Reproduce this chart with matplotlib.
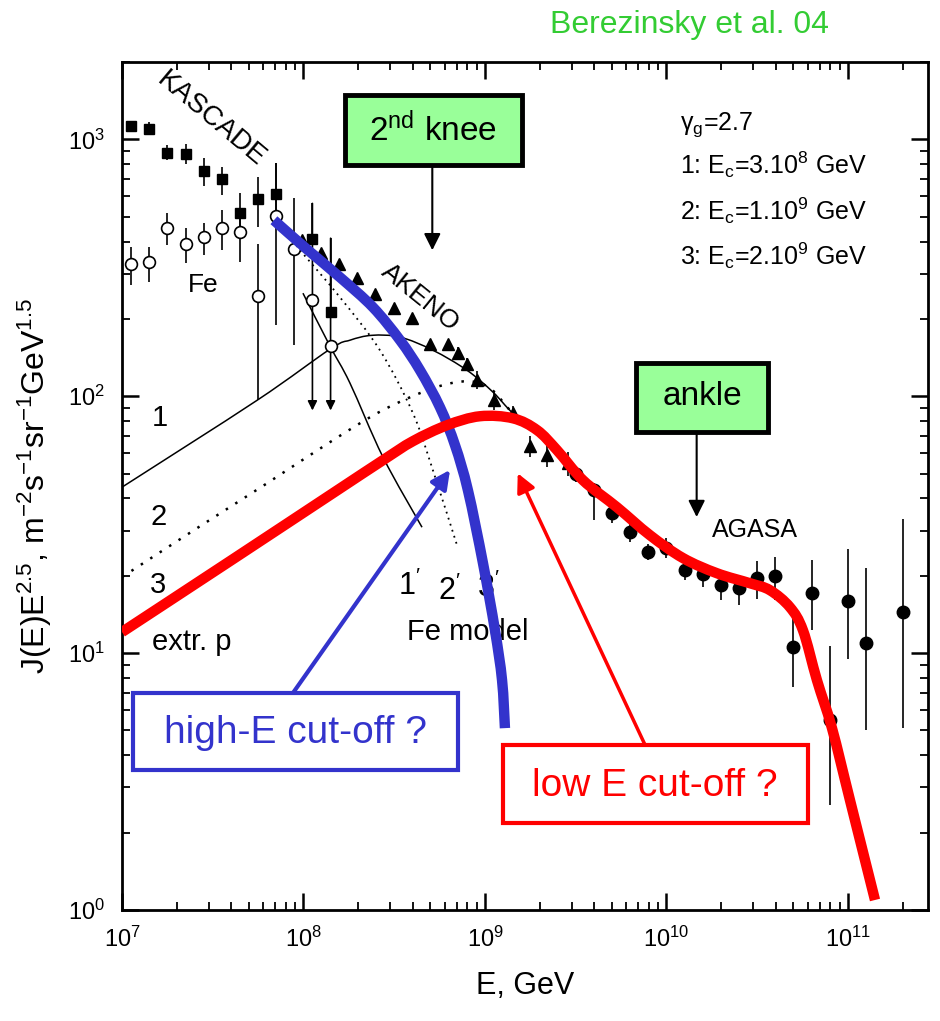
import numpy as np
import matplotlib
matplotlib.use('Agg')
import matplotlib.pyplot as plt
from matplotlib.patches import Rectangle, PathPatch
from matplotlib.path import Path
from matplotlib import font_manager

plt.rcParams['font.family'] = ['Liberation Sans', 'DejaVu Sans']
plt.rcParams['mathtext.fontset'] = 'custom'
plt.rcParams['mathtext.rm'] = 'Liberation Sans'
plt.rcParams['mathtext.it'] = 'Liberation Sans:italic'
plt.rcParams['mathtext.sf'] = 'Liberation Sans'

# ---------------- data ----------------
# KASCADE all-particle (filled squares)
kas_E = [1.12e7, 1.41e7, 1.78e7, 2.24e7, 2.82e7, 3.55e7, 4.47e7, 5.62e7, 7.08e7, 1.12e8, 1.41e8]
kas_J = [1124, 1094, 883, 875, 751, 699, 515, 585, 611, 408, 212]
kas_lo = [1074, 1037, 828, 800, 656, 605, 431, 455, 475, 408, 212]
kas_hi = [1175, 1164, 948, 957, 844, 778, 617, 711, 807, 563, 412]

# KASCADE Fe (open circles)
fe_E = [1.12e7, 1.41e7, 1.78e7, 2.24e7, 2.82e7, 3.55e7, 4.47e7, 5.62e7, 7.08e7, 8.91e7, 1.12e8, 1.41e8]
fe_J = [326, 332, 450, 390, 416, 450, 435, 245, 501, 373, 236, 157]
fe_lo = [270, 278, 387, 329, 354, 370, 332, 96.5, 189, 158, 236, 157]
fe_hi = [380, 380, 515, 451, 471, 529, 497, 390, 807, 589, 236, 157]

# upper limits (arrows)
ul_E = [1.12e8, 1.41e8]
ul_top = [563, 412]
ul_bottom = [88, 88]

# AKENO (triangles)
ak_E = [9.8e7, 1.25e8, 1.57e8, 1.97e8, 2.48e8, 3.15e8, 3.96e8, 4.98e8, 6.25e8, 7.1e8,
        7.96e8, 9.0e8, 1.12e9, 1.43e9, 1.77e9, 2.2e9, 2.87e9]
ak_J = [405, 360, 326, 288, 249, 220, 201, 159, 159, 147, 133, 116, 96.5, 85.9, 63.8, 58.9, 54.9]
ak_err = [0, 0, 0, 0, 0, 0, 0, 0, 0, 8, 8, 9, 8, 6, 6, 6, 6]

# AGASA (filled circles)
ag_E = [3.16e9, 3.98e9, 5.01e9, 6.31e9, 7.94e9, 1.0e10, 1.26e10, 1.58e10, 2.0e10, 2.51e10,
        3.16e10, 3.98e10, 5.01e10, 6.31e10, 7.94e10, 1.0e11, 1.26e11, 2.0e11]
ag_J = [49.7, 43.0, 35.1, 29.6, 24.7, 25.6, 21.0, 20.3, 18.4, 17.9,
        19.6, 19.9, 10.6, 17.1, 5.49, 15.9, 10.9, 14.4]
ag_lo = [46.3, 32.9, 32.0, 27.0, 23.0, 23.4, 19.2, 18.1, 16.1, 15.4,
         16.2, 16.1, 7.38, 12.3, 2.56, 9.48, 5.01, 5.11]
ag_hi = [53.4, 45.8, 38.3, 32.3, 26.6, 28.0, 23.0, 22.4, 20.5, 20.1,
         22.8, 23.6, 14.7, 23.0, 10.7, 25.4, 21.4, 33.2]

# model curves (log10 E, log10 J)
c1_logE = [7.0, 7.744, 8.146, 8.256, 8.377, 8.532, 8.713, 8.901, 9.044, 9.154, 9.287, 9.397, 9.540, 9.727, 9.909]
c1_logJ = [1.646, 1.984, 2.183, 2.218, 2.237, 2.230, 2.179, 2.101, 2.016, 1.934, 1.868, 1.790, 1.673, 1.568, 1.459]

c2_logE = [7.0, 7.430, 7.799, 8.163, 8.438, 8.713, 8.901, 9.028, 9.154, 9.287, 9.397]
c2_logJ = [1.296, 1.494, 1.661, 1.829, 1.946, 2.031, 2.058, 2.031, 1.934, 1.868, 1.790]

c3_logE = [7.0, 7.612, 8.163, 8.438, 8.603, 8.791, 8.972, 9.154, 9.287, 9.397, 9.540, 9.727,
           9.909, 10.091, 10.278, 10.460, 10.570, 10.680, 10.752, 10.829, 10.912, 11.011, 11.149]
c3_logJ = [1.082, 1.366, 1.623, 1.751, 1.825, 1.887, 1.922, 1.914, 1.868, 1.790, 1.673, 1.568,
           1.459, 1.370, 1.311, 1.272, 1.245, 1.179, 1.089, 0.895, 0.708, 0.428, 0.039]

f1_logE = [7.997, 8.146, 8.256, 8.438, 8.653]
f1_logJ = [2.401, 2.195, 2.051, 1.763, 1.490]

f2_logE = [7.981, 8.201, 8.421, 8.603, 8.713, 8.846]
f2_logJ = [2.568, 2.385, 2.179, 1.934, 1.712, 1.420]

f3_logE = [7.837, 8.019, 8.201, 8.383, 8.532, 8.642, 8.752, 8.835, 8.906, 8.989, 9.055, 9.094, 9.110]
f3_logJ = [2.685, 2.572, 2.463, 2.346, 2.218, 2.101, 1.957, 1.809, 1.634, 1.350, 1.089, 0.895, 0.708]

xlim = (1e7, 2.76e11)
ylim = (1.0, 2000.0)

# ---------------- figure ----------------
fig = plt.figure(figsize=(9.4, 10.21), dpi=100)
ax = fig.add_axes([0.1298, 0.1087, 0.8574, 0.8306])
ax.set_xscale('log')
ax.set_yscale('log')
ax.set_xlim(*xlim)
ax.set_ylim(*ylim)

blue = '#3333cc'
red = '#ff0000'


def smooth_curve(logE, logJ, **kw):
    """Draw a smooth (Catmull-Rom style Bezier) curve through the read points."""
    P = np.column_stack([logE, logJ]).astype(float)
    n = len(P)
    verts = [P[0]]
    codes = [Path.MOVETO]
    for i in range(n - 1):
        p0 = P[i - 1] if i > 0 else P[i]
        p1 = P[i]
        p2 = P[i + 1]
        p3 = P[i + 2] if i + 2 < n else P[i + 1]
        verts += [p1 + (p2 - p0) / 6.0, p2 - (p3 - p1) / 6.0, p2]
        codes += [Path.CURVE4] * 3
    path = Path(10 ** np.array(verts), codes)
    patch = PathPatch(path, fill=False, transform=ax.transData, **kw)
    ax.add_patch(patch)
    return patch


# data points
kas_J_a = np.array(kas_J, float)
ax.errorbar(kas_E, kas_J, yerr=[kas_J_a - np.array(kas_lo), np.array(kas_hi) - kas_J_a],
            fmt='s', color='black', ms=7.5, elinewidth=1.2, capsize=0, zorder=3)
fe_J_a = np.array(fe_J, float)
ax.errorbar(fe_E, fe_J, yerr=[fe_J_a - np.array(fe_lo), np.array(fe_hi) - fe_J_a],
            fmt='o', mfc='white', mec='black', mew=1.2, color='black', ms=8.5,
            elinewidth=1.2, capsize=0, zorder=3)
for e, t, b in zip(ul_E, ul_top, ul_bottom):
    ax.annotate('', xy=(e, b), xytext=(e, t),
                arrowprops=dict(arrowstyle='-|>', color='black', lw=1.2,
                                mutation_scale=14, shrinkA=0, shrinkB=0), zorder=3)
ax.errorbar(ak_E, ak_J, yerr=ak_err, fmt='^', color='black', ms=9,
            elinewidth=1.2, capsize=0, zorder=3)
ag_J_a = np.array(ag_J, float)
ax.errorbar(ag_E, ag_J, yerr=[ag_J_a - np.array(ag_lo), np.array(ag_hi) - ag_J_a],
            fmt='o', color='black', ms=9, elinewidth=1.2, capsize=0, zorder=3)

# model curves
smooth_curve(c1_logE, c1_logJ, edgecolor='black', lw=1.1, zorder=2)
smooth_curve(c2_logE, c2_logJ, edgecolor='black', lw=1.8, linestyle=(0, (1, 3.5)), zorder=2)
smooth_curve(f1_logE, f1_logJ, edgecolor='black', lw=1.1, zorder=2)
smooth_curve(f2_logE, f2_logJ, edgecolor='black', lw=1.3, linestyle=(0, (1, 2.5)), zorder=2)
smooth_curve(f3_logE, f3_logJ, edgecolor=blue, lw=7.5, capstyle='butt', zorder=4)
smooth_curve(c3_logE, c3_logJ, edgecolor=red, lw=7.5, capstyle='butt', zorder=5)

# axes styling
for s in ax.spines.values():
    s.set_linewidth(2)
ax.tick_params(which='both', direction='in', top=True, right=True)
ax.tick_params(which='major', length=12, width=1.8, labelsize=17, pad=12)
ax.tick_params(which='minor', length=6, width=1.3)
ax.set_xlabel('E, GeV', fontsize=22, labelpad=14)
ax.set_ylabel(r'J(E)E$^{2.5}$, m$^{-2}$s$^{-1}$sr$^{-1}$GeV$^{1.5}$', fontsize=23, labelpad=10)

T = ax.transAxes
# labels
ax.text(0.110, 0.932, 'KASCADE', rotation=-40, fontsize=20, ha='center', va='center', transform=T)
ax.text(0.101, 0.737, 'Fe', fontsize=19, ha='center', va='center', transform=T)
ax.text(0.370, 0.722, 'AKENO', rotation=-39, fontsize=19, ha='center', va='center', transform=T)
ax.text(0.785, 0.448, 'AGASA', fontsize=18, ha='center', va='center', transform=T)
ax.text(0.047, 0.580, '1', fontsize=21, ha='center', va='center', transform=T)
ax.text(0.045, 0.463, '2', fontsize=21, ha='center', va='center', transform=T)
ax.text(0.045, 0.383, '3', fontsize=21, ha='center', va='center', transform=T)
ax.text(0.087, 0.316, 'extr. p', fontsize=21, ha='center', va='center', transform=T)
ax.text(0.357, 0.382, r"1$^{\prime}$", fontsize=22, ha='center', va='center', transform=T)
ax.text(0.406, 0.376, r"2$^{\prime}$", fontsize=22, ha='center', va='center', transform=T)
ax.text(0.455, 0.379, r"3$^{\prime}$", fontsize=22, ha='center', va='center', transform=T)
ax.text(0.429, 0.328, 'Fe model', fontsize=21, ha='center', va='center', transform=T)

ax.text(0.692, 0.926, r'$\mathregular{\gamma_g}$=2.7', fontsize=18, ha='left', va='center', transform=T)
ax.text(0.692, 0.879, r'1: E$_\mathregular{c}$=3.10$^8$ GeV', fontsize=18, ha='left', va='center', transform=T)
ax.text(0.692, 0.825, r'2: E$_\mathregular{c}$=1.10$^9$ GeV', fontsize=18, ha='left', va='center', transform=T)
ax.text(0.692, 0.772, r'3: E$_\mathregular{c}$=2.10$^9$ GeV', fontsize=18, ha='left', va='center', transform=T)

# green boxes with arrows
ax.add_patch(Rectangle((0.2767, 0.8785), 0.2196, 0.0825, transform=T, facecolor='#99ff99',
                       edgecolor='black', lw=3.5, zorder=6))
ax.text(0.386, 0.920, r'2$^{\mathregular{nd}}$ knee', fontsize=24, ha='center', va='center', transform=T, zorder=7)
ax.annotate('', xy=(0.385, 0.778), xytext=(0.385, 0.8785), xycoords=T, textcoords=T,
            arrowprops=dict(arrowstyle='-|>', color='black', lw=1.5, mutation_scale=25,
                            shrinkA=0, shrinkB=0))
ax.add_patch(Rectangle((0.6377, 0.5637), 0.1638, 0.0814, transform=T, facecolor='#99ff99',
                       edgecolor='black', lw=3.5, zorder=6))
ax.text(0.720, 0.605, 'ankle', fontsize=24, ha='center', va='center', transform=T, zorder=7)
ax.annotate('', xy=(0.713, 0.4634), xytext=(0.713, 0.5637), xycoords=T, textcoords=T,
            arrowprops=dict(arrowstyle='-|>', color='black', lw=1.5, mutation_scale=25,
                            shrinkA=0, shrinkB=0))

# condensed font for the question boxes if available
names = {f.name for f in font_manager.fontManager.ttflist}
qfam = ['Liberation Sans Narrow', 'Liberation Sans'] if 'Liberation Sans Narrow' in names else ['Liberation Sans']

# blue box
ax.add_patch(Rectangle((0.0136, 0.165), 0.403, 0.0908, transform=T, facecolor='white',
                       edgecolor=blue, lw=3, zorder=6))
ax.text(0.215, 0.209, 'high-E cut-off ?', fontsize=28, color=blue, ha='center', va='center',
        family=qfam, transform=T, zorder=7)
ax.annotate('', xy=(0.407, 0.519), xytext=(0.212, 0.2558), xycoords=T, textcoords=T,
            arrowprops=dict(arrowstyle='-|>', color=blue, lw=3, mutation_scale=28,
                            shrinkA=0, shrinkB=0), zorder=5)
# red box
ax.add_patch(Rectangle((0.473, 0.1026), 0.378, 0.092, transform=T, facecolor='white',
                       edgecolor=red, lw=3, zorder=6))
ax.text(0.661, 0.1466, 'low E cut-off ?', fontsize=28, color=red, ha='center', va='center',
        family=qfam, transform=T, zorder=7)
ax.annotate('', xy=(0.491, 0.515), xytext=(0.649, 0.1946), xycoords=T, textcoords=T,
            arrowprops=dict(arrowstyle='-|>', color=red, lw=2.5, mutation_scale=28,
                            shrinkA=0, shrinkB=0), zorder=5)

fig.text(0.734, 0.9755, 'Berezinsky et al. 04', fontsize=23, color='#33cc33', ha='center', va='center')

fig.savefig('out.png', dpi=100)
